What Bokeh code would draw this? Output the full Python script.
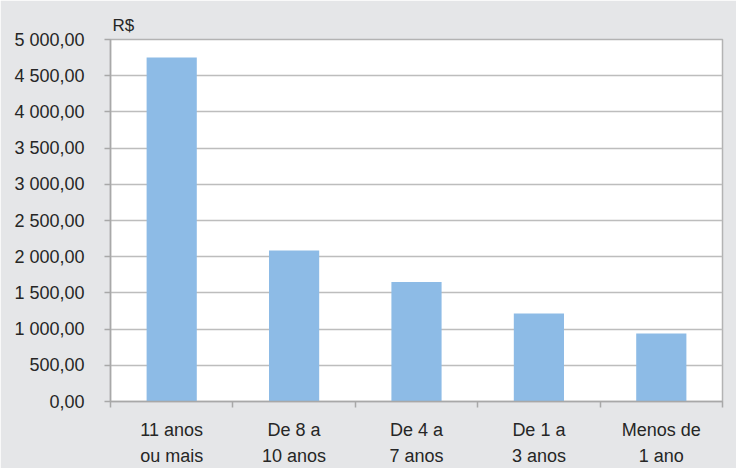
from bokeh.plotting import figure
from bokeh.models import FixedTicker, ColumnDataSource, Title
from bokeh.embed import file_html
from bokeh.resources import INLINE

categories = ["11 anos\nou mais", "De 8 a\n10 anos", "De 4 a\n7 anos", "De 1 a\n3 anos", "Menos de\n1 ano"]
values = [4750, 2085, 1652, 1216, 940]
y_ticks = [0, 500, 1000, 1500, 2000, 2500, 3000, 3500, 4000, 4500, 5000]
y_labels = ["0,00", "500,00", "1 000,00", "1 500,00", "2 000,00", "2 500,00",
            "3 000,00", "3 500,00", "4 000,00", "4 500,00", "5 000,00"]
unit_label = "R$"

FONT = "Liberation Sans"
TXT = "#262626"
BG = "#e5e6e8"
GRID = "#bdbdbd"

xc = [i + 0.5 for i in range(len(categories))]
src = ColumnDataSource(dict(x=xc, top=values))

p = figure(width=736, height=468, output_backend="svg", toolbar_location=None,
           x_range=(0, len(categories)), y_range=(0, 5000),
           min_border_left=110, min_border_right=14, min_border_top=39, min_border_bottom=67)
p.title = Title(text=unit_label, text_font=FONT, text_font_size="17px", text_color=TXT,
                text_font_style="normal", align="left", offset=2, standoff=9)
p.background_fill_color = "white"
p.border_fill_color = BG
p.outline_line_color = "#b3b3b3"
p.outline_line_width = 1.5

p.vbar(x="x", top="top", width=0.41, bottom=0, source=src, fill_color="#8dbbe6", line_color=None)

# y axis
ya = p.yaxis[0]
ya.ticker = FixedTicker(ticks=y_ticks)
ya.major_label_overrides = {t: l for t, l in zip(y_ticks, y_labels)}
ya.major_label_text_font = FONT
ya.major_label_text_font_size = "18px"
ya.major_label_text_color = TXT
ya.axis_line_color = "#a8a8a8"
ya.axis_line_width = 1.5
ya.major_tick_line_color = "#a8a8a8"
ya.major_tick_line_width = 1.5
ya.major_tick_in = 0
ya.major_tick_out = 6
ya.minor_tick_line_color = None
ya.major_label_standoff = 20

# x axis: boundaries as minor ticks, labels at centers
xa = p.xaxis[0]
xa.ticker = FixedTicker(ticks=xc, minor_ticks=list(range(len(categories) + 1)))
xa.major_label_overrides = {x: c for x, c in zip(xc, categories)}
xa.major_label_text_font = FONT
xa.major_label_text_font_size = "18px"
xa.major_label_text_color = TXT
xa.major_label_text_line_height = 1.3
xa.axis_line_color = "#a8a8a8"
xa.axis_line_width = 1.5
xa.major_tick_line_color = None
xa.minor_tick_line_color = "#a8a8a8"
xa.minor_tick_line_width = 1.5
xa.minor_tick_in = 0
xa.minor_tick_out = 6
xa.major_label_standoff = 12

p.xgrid.grid_line_color = None
p.ygrid.ticker = FixedTicker(ticks=y_ticks)
p.ygrid.grid_line_color = GRID
p.ygrid.grid_line_width = 1.5

open("out.html", "w").write(file_html(p, INLINE))
